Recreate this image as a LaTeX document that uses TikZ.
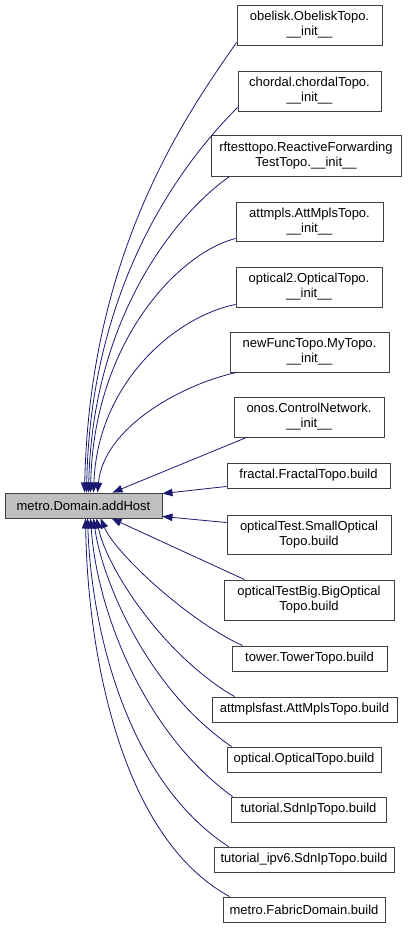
\documentclass[tikz,border=0pt]{standalone}
\usepackage{fontspec}
\setmainfont{Liberation Sans}
\usetikzlibrary{arrows.meta,calc}
\definecolor{edgeblue}{RGB}{25,25,112}
\definecolor{boxline}{RGB}{64,64,64}
\definecolor{hostfill}{RGB}{191,191,191}
\begin{document}
\begin{tikzpicture}[x=1pt,y=-1pt,
  fn/.style={draw=boxline,line width=0.9pt,fill=white,inner sep=0pt,align=center,
    font=\fontsize{13}{15}\selectfont,anchor=center},
  edge/.style={draw=edgeblue,line width=0.8pt,-{Triangle[length=10pt,width=7.5pt]}}]
\useasboundingbox (0,0) rectangle (413,931);
\node[fn,fill=hostfill,minimum width=157pt,minimum height=25pt] (A) at (83.5,505.5) {metro.Domain.addHost};
\node[fn,minimum width=145pt,minimum height=40pt] (n1) at (309.5,25) {obelisk.ObeliskTopo.\\\_\_init\_\_};
\node[fn,minimum width=143pt,minimum height=40pt] (n2) at (309.5,91) {chordal.chordalTopo.\\\_\_init\_\_};
\node[fn,minimum width=190pt,minimum height=41pt] (n3) at (306,155.5) {rftesttopo.ReactiveForwarding\\TestTopo.\_\_init\_\_};
\node[fn,minimum width=147pt,minimum height=39pt] (n4) at (309.5,221.5) {attmpls.AttMplsTopo.\\\_\_init\_\_};
\node[fn,minimum width=146pt,minimum height=40pt] (n5) at (309,287) {optical2.OpticalTopo.\\\_\_init\_\_};
\node[fn,minimum width=159pt,minimum height=40pt] (n6) at (309.5,352) {newFuncTopo.MyTopo.\\\_\_init\_\_};
\node[fn,minimum width=150pt,minimum height=40pt] (n7) at (309,417) {onos.ControlNetwork.\\\_\_init\_\_};
\node[fn,minimum width=163pt,minimum height=25pt] (n8) at (308.5,475.5) {fractal.FractalTopo.build};
\node[fn,minimum width=164pt,minimum height=39pt] (n9) at (309,534.5) {opticalTest.SmallOptical\\Topo.build};
\node[fn,minimum width=170pt,minimum height=40pt] (n10) at (309,600) {opticalTestBig.BigOptical\\Topo.build};
\node[fn,minimum width=155pt,minimum height=25pt] (n11) at (309.5,658.5) {tower.TowerTopo.build};
\node[fn,minimum width=185pt,minimum height=25pt] (n12) at (304.5,709.5) {attmplsfast.AttMplsTopo.build};
\node[fn,minimum width=154pt,minimum height=25pt] (n13) at (304,759.5) {optical.OpticalTopo.build};
\node[fn,minimum width=155pt,minimum height=25pt] (n14) at (308.5,809.5) {tutorial.SdnIpTopo.build};
\node[fn,minimum width=180pt,minimum height=25pt] (n15) at (304,859.5) {tutorial\_ipv6.SdnIpTopo.build};
\node[fn,minimum width=162pt,minimum height=25pt] (n16) at (304,909.5) {metro.FabricDomain.build};
% upper edges
\draw[edge] ($(n1.south west)+(0,-3)$) .. controls +(-47,68) and +(5,-244) .. ($(A.north west)+(80,0)$);
\draw[edge] ($(n2.south west)+(0,-4)$) .. controls +(-50,50) and +(4,-215) .. ($(A.north west)+(82,0)$);
\draw[edge] ($(n3.south west)+(19,0)$) .. controls +(-50,35) and +(4,-180) .. ($(A.north west)+(84,0)$);
\draw[edge] ($(n4.south west)+(0,-3)$) .. controls +(-58,15) and +(3,-150) .. ($(A.north west)+(86,0)$);
\draw[edge] ($(n5.south west)+(0,-3)$) .. controls +(-60,12) and +(4,-110) .. ($(A.north west)+(89,0)$);
\draw[edge] ($(n6.south west)+(7,0)$) .. controls +(-55,12) and +(6,-65) .. ($(A.north west)+(93,0)$);
\draw[edge] ($(n7.south west)+(13,0)$) -- ($(A.north west)+(108,0)$);
\draw[edge] ($(n8.south west)+(0,-2)$) -- ($(A.north east)+(0,1)$);
\draw[edge] ($(n9.north west)+(0,8)$) -- ($(A.south east)+(0,-2)$);
% lower edges
\draw[edge] ($(n10.north west)+(21,0)$) -- ($(A.south west)+(107,0)$);
\draw[edge] ($(n11.north west)+(11,0)$) .. controls +(-55,-25) and +(15,35) .. ($(A.south west)+(96,0)$);
\draw[edge] ($(n12.north west)+(23,0)$) .. controls +(-70,-40) and +(10,50) .. ($(A.south west)+(92,0)$);
\draw[edge] ($(n13.north west)+(5,0)$) .. controls +(-85,-58) and +(8,60) .. ($(A.south west)+(89,0)$);
\draw[edge] ($(n14.north west)+(2,0)$) .. controls +(-90,-65) and +(6,90) .. ($(A.south west)+(86,0)$);
\draw[edge] ($(n15.north west)+(15,0)$) .. controls +(-100,-65) and +(4,115) .. ($(A.south west)+(83,0)$);
\draw[edge] ($(n16.north west)+(7,0)$) .. controls +(-110,-60) and +(2,132) .. ($(A.south west)+(81,0)$);
\end{tikzpicture}
\end{document}
